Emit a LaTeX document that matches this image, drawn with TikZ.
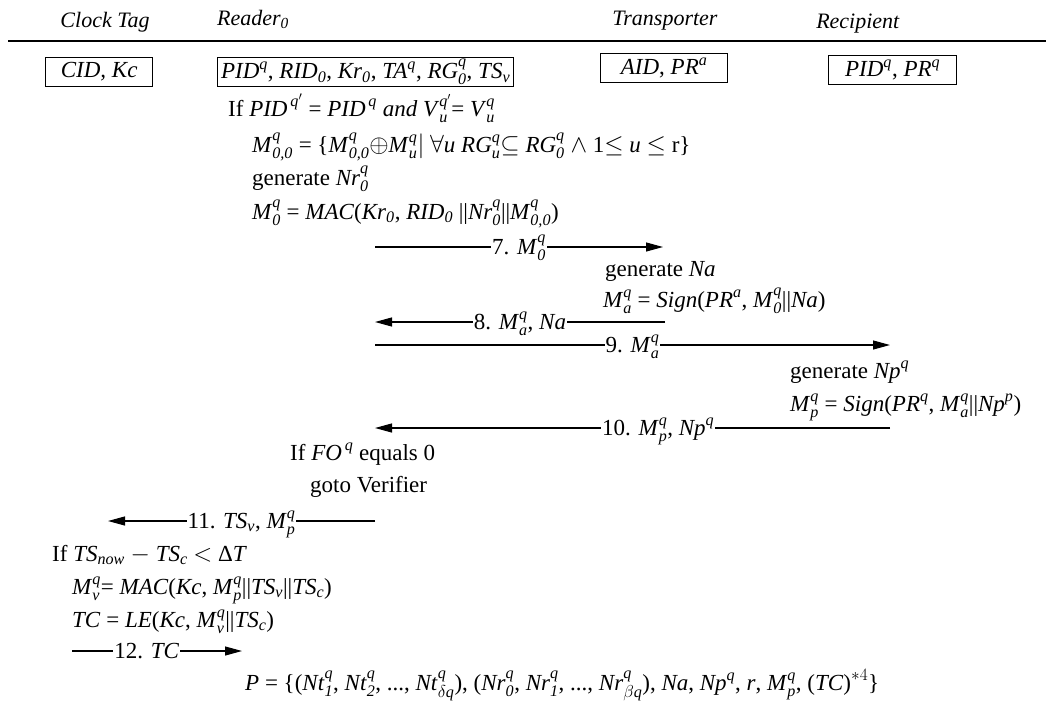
\documentclass[tikz,border=0pt]{standalone}
\usepackage{amsmath}
\usepackage{fontspec}
\setmainfont{Liberation Serif}
\usetikzlibrary{arrows.meta}
% italic symbol with subscript #2 and superscript #3
\newcommand\Ms[3]{\textit{#1}$^{\textit{#3}}_{\textit{#2}}$}
\newcommand\Mb[2]{\textit{#1}$_{\textit{#2}}$}
\newcommand\Mp[2]{\textit{#1}$^{\textit{#2}}$}
\tikzset{
  txt/.style={anchor=base west, inner sep=0pt},
  hdr/.style={anchor=base, inner sep=0pt, font=\fontsize{22}{26}\selectfont},
  keybox/.style={draw, line width=1.3pt, minimum height=29pt, inner sep=0pt, anchor=north west},
  msg/.style={line width=1.1pt, -{Triangle[length=17pt,width=9pt]}},
  lbl/.style={fill=white, inner sep=1pt, anchor=base, yshift=-7pt},
}
\begin{document}
\begin{tikzpicture}[x=1pt, y=-1pt, font=\fontsize{23}{27}\selectfont]
\useasboundingbox (0,0) rectangle (1046,710);

% parties
\node[hdr] (hclock) at (105,27) {\textit{Clock Tag}};
\node[hdr] (hreader) at (253,25) {\Mb{Reader}{0}};
\node[hdr] (htrans) at (665,25) {\textit{Transporter}};
\node[hdr] (hrecip) at (858,28) {\textit{Recipient}};
\draw[line width=1.2pt] (8,41) -- (1046,41);

% stored secrets
\node[keybox, minimum width=107pt] (kclock) at (45,57) {\textit{CID, Kc}};
\node[keybox, minimum width=296pt] (kreader) at (217,57) {\Mp{PID}{q}, \Mb{RID}{0}, \Mb{Kr}{0}, \Mp{TA}{q}, \Ms{RG}{0}{q}, \Mb{TS}{v}};
\node[keybox, minimum width=127pt] (ktrans) at (600,53) {\textit{AID}, \Mp{PR}{a}};
\node[keybox, minimum width=128pt] (krecip) at (828,55) {\Mp{PID}{q}, \Mp{PR}{q}};

% reader computations
\node[txt] (r1) at (228,116) {If \textit{PID}$^{\,\textit{q}'}$ = \textit{PID}$^{\,\textit{q}}$ \textit{and} \Ms{V}{u}{q$'$}= \Ms{V}{u}{q}};
\node[txt] (r2) at (252,152) {\Ms{M}{0,0}{q} = \{\Ms{M}{0,0}{q}$\oplus$\Ms{M}{u}{q}$|$ $\forall$\textit{u} \Ms{RG}{u}{q}$\subseteq$ \Ms{RG}{0}{q} $\wedge$ 1$\leq$ \textit{u} $\leq$ r\}};
\node[txt] (r3) at (252,185) {generate \Ms{Nr}{0}{q}};
\node[txt] (r4) at (252,219) {\Ms{M}{0}{q} = \textit{MAC}(\Mb{Kr}{0}, \Mb{RID}{0} ||\Ms{Nr}{0}{q}||\Ms{M}{0,0}{q})};

% message 7
\coordinate (m7s) at (375,247);
\coordinate (m7e) at (663,247);
\draw[msg] (m7s) -- node[lbl, pos=.5] (l7) {7. \Ms{M}{0}{q}} (m7e);

% transporter computations
\node[txt] (t1) at (605,276) {generate \textit{Na}};
\node[txt] (t2) at (603,307) {\Ms{M}{a}{q} = \textit{Sign}(\Mp{PR}{a}, \Ms{M}{0}{q}||\textit{Na})};

% messages 8 and 9
\coordinate (m8s) at (665,322);
\coordinate (m8e) at (375,322);
\draw[msg] (m8s) -- node[lbl, pos=.5] (l8) {8. \Ms{M}{a}{q}, \textit{Na}} (m8e);
\coordinate (m9s) at (375,345);
\coordinate (m9e) at (890,345);
\draw[msg] (m9s) -- node[lbl, pos=.5] (l9) {9. \Ms{M}{a}{q}} (m9e);

% recipient computations
\node[txt] (p1) at (790,378) {generate \Mp{Np}{q}};
\node[txt] (p2) at (790,411) {\Ms{M}{p}{q} = \textit{Sign}(\Mp{PR}{q}, \Ms{M}{a}{q}||\Mp{Np}{p})};

% message 10
\coordinate (m10s) at (890,428);
\coordinate (m10e) at (375,428);
\draw[msg] (m10s) -- node[lbl, pos=.45] (l10) {10. \Ms{M}{p}{q}, \Mp{Np}{q}} (m10e);

\node[txt] (r5) at (290,460) {If \textit{FO}$^{\,\textit{q}}$ equals 0};
\node[txt] (r6) at (310,492) {goto Verifier};

% message 11
\coordinate (m11s) at (375,521);
\coordinate (m11e) at (108,521);
\draw[msg] (m11s) -- node[lbl, pos=.5] (l11) {11. \Mb{TS}{v}, \Ms{M}{p}{q}} (m11e);

% clock tag computations
\node[txt] (c1) at (52,561) {If \Mb{TS}{now} $-$ \Mb{TS}{c} $<$ Δ\textit{T}};
\node[txt] (c2) at (72,594) {\Ms{M}{v}{q}= \textit{MAC}(\textit{Kc}, \Ms{M}{p}{q}||\Mb{TS}{v}||\Mb{TS}{c})};
\node[txt] (c3) at (72,627) {\textit{TC} = \textit{LE}(\textit{Kc}, \Ms{M}{v}{q}||\Mb{TS}{c})};

% message 12
\coordinate (m12s) at (72,651);
\coordinate (m12e) at (242,651);
\draw[msg] (m12s) -- node[lbl, pos=.44] (l12) {12. \textit{TC}} (m12e);

\node[txt] (res) at (245,690) {\textit{P} = \{(\Ms{Nt}{1}{q}, \Ms{Nt}{2}{q}, ..., \Ms{Nt}{$\delta$q}{q}), (\Ms{Nr}{0}{q}, \Ms{Nr}{1}{q}, ..., \Ms{Nr}{$\beta$q}{q}), \textit{Na}, \Mp{Np}{q}, \textit{r}, \Ms{M}{p}{q}, (\textit{TC})$^{*4}$\}};
\end{tikzpicture}
\end{document}
